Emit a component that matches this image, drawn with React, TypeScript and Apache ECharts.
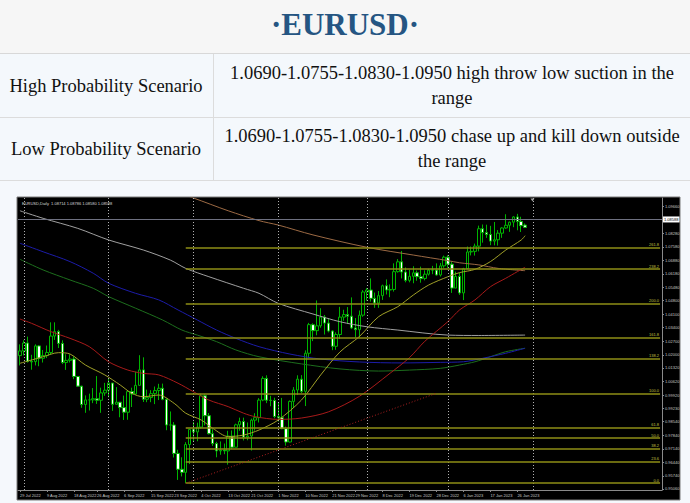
import React, { useEffect, useRef } from 'react';
import * as echarts from 'echarts';

// ---- table text ----
const TITLE = '·EURUSD·';
const ROW_LABELS = ['High Probability Scenario', 'Low Probability Scenario'];
const ROW_TEXT = [
  ['1.0690-1.0755-1.0830-1.0950 high throw low suction in the', 'range'],
  ['1.0690-1.0755-1.0830-1.0950 chase up and kill down outside', 'the range'],
];
const CHART_HEADER = 'EURUSD,Daily  1.08714 1.08786 1.08580 1.08588';

// ---- daily bars (weekdays) ----
const DATES = [
  '29 Jul 2022',
  '1 Aug 2022', '2 Aug 2022', '3 Aug 2022', '4 Aug 2022', '5 Aug 2022',
  '8 Aug 2022', '9 Aug 2022', '10 Aug 2022', '11 Aug 2022', '12 Aug 2022',
  '15 Aug 2022', '16 Aug 2022', '17 Aug 2022', '18 Aug 2022', '19 Aug 2022',
  '22 Aug 2022', '23 Aug 2022', '24 Aug 2022', '25 Aug 2022', '26 Aug 2022',
  '29 Aug 2022', '30 Aug 2022', '31 Aug 2022', '1 Sep 2022', '2 Sep 2022',
  '5 Sep 2022', '6 Sep 2022', '7 Sep 2022', '8 Sep 2022', '9 Sep 2022',
  '12 Sep 2022', '13 Sep 2022', '14 Sep 2022', '15 Sep 2022', '16 Sep 2022',
  '19 Sep 2022', '20 Sep 2022', '21 Sep 2022', '22 Sep 2022', '23 Sep 2022',
  '26 Sep 2022', '27 Sep 2022', '28 Sep 2022', '29 Sep 2022', '30 Sep 2022',
  '3 Oct 2022', '4 Oct 2022', '5 Oct 2022', '6 Oct 2022', '7 Oct 2022',
  '10 Oct 2022', '11 Oct 2022', '12 Oct 2022', '13 Oct 2022', '14 Oct 2022',
  '17 Oct 2022', '18 Oct 2022', '19 Oct 2022', '20 Oct 2022', '21 Oct 2022',
  '24 Oct 2022', '25 Oct 2022', '26 Oct 2022', '27 Oct 2022', '28 Oct 2022',
  '31 Oct 2022', '1 Nov 2022', '2 Nov 2022', '3 Nov 2022', '4 Nov 2022',
  '7 Nov 2022', '8 Nov 2022', '9 Nov 2022', '10 Nov 2022', '11 Nov 2022',
  '14 Nov 2022', '15 Nov 2022', '16 Nov 2022', '17 Nov 2022', '18 Nov 2022',
  '21 Nov 2022', '22 Nov 2022', '23 Nov 2022', '24 Nov 2022', '25 Nov 2022',
  '28 Nov 2022', '29 Nov 2022', '30 Nov 2022', '1 Dec 2022', '2 Dec 2022',
  '5 Dec 2022', '6 Dec 2022', '7 Dec 2022', '8 Dec 2022', '9 Dec 2022',
  '12 Dec 2022', '13 Dec 2022', '14 Dec 2022', '15 Dec 2022', '16 Dec 2022',
  '19 Dec 2022', '20 Dec 2022', '21 Dec 2022', '22 Dec 2022', '23 Dec 2022',
  '26 Dec 2022', '27 Dec 2022', '28 Dec 2022', '29 Dec 2022', '30 Dec 2022',
  '2 Jan 2023', '3 Jan 2023', '4 Jan 2023', '5 Jan 2023', '6 Jan 2023',
  '9 Jan 2023', '10 Jan 2023', '11 Jan 2023', '12 Jan 2023', '13 Jan 2023',
  '16 Jan 2023', '17 Jan 2023', '18 Jan 2023', '19 Jan 2023', '20 Jan 2023',
  '23 Jan 2023', '24 Jan 2023', '25 Jan 2023', '26 Jan 2023', '27 Jan 2023',
  '30 Jan 2023',
];

const OPEN = [
  1.0196, 1.0220, 1.0261, 1.0165, 1.0165, 1.0246, 1.0182, 1.0196, 1.0212, 1.0297,
  1.0320, 1.0259, 1.0160, 1.0171, 1.0178, 1.0088, 1.0038, 0.9943, 0.9967, 0.9967,
  0.9973, 0.9965, 1.0003, 1.0017, 1.0054, 0.9944, 0.9955, 0.9927, 0.9903, 1.0010,
  0.9997, 1.0042, 1.0122, 0.9970, 0.9979, 0.9999, 1.0015, 1.0027, 0.9970, 0.9837,
  0.9837, 0.9690, 0.9608, 0.9592, 0.9736, 0.9814, 0.9801, 0.9826, 0.9988, 0.9885,
  0.9792, 0.9741, 0.9703, 0.9707, 0.9703, 0.9780, 0.9722, 0.9838, 0.9855, 0.9774,
  0.9780, 0.9862, 0.9875, 0.9966, 1.0078, 0.9965, 0.9964, 0.9881, 0.9875, 0.9818,
  0.9749, 0.9959, 1.0018, 1.0074, 1.0011, 1.0208, 1.0356, 1.0325, 1.0350, 1.0395,
  1.0364, 1.0323, 1.0244, 1.0305, 1.0395, 1.0408, 1.0400, 1.0339, 1.0330, 1.0405,
  1.0525, 1.0535, 1.0492, 1.0468, 1.0506, 1.0557, 1.0535, 1.0538, 1.0630, 1.0681,
  1.0628, 1.0585, 1.0606, 1.0624, 1.0604, 1.0595, 1.0617, 1.0638, 1.0638, 1.0613,
  1.0660, 1.0705, 1.0669, 1.0545, 1.0605, 1.0520, 1.0645, 1.0732, 1.0735, 1.0762,
  1.0852, 1.0832, 1.0822, 1.0788, 1.0795, 1.0829, 1.0856, 1.0870, 1.0886, 1.0913,
  1.0890, 1.0871,
];
const CLOSE = [
  1.0220, 1.0261, 1.0165, 1.0163, 1.0246, 1.0182, 1.0196, 1.0212, 1.0297, 1.0320,
  1.0259, 1.0160, 1.0171, 1.0178, 1.0088, 1.0038, 0.9943, 0.9967, 0.9967, 0.9973,
  0.9965, 1.0003, 1.0017, 1.0054, 0.9944, 0.9955, 0.9927, 0.9903, 1.0010, 0.9997,
  1.0042, 1.0122, 0.9970, 0.9979, 0.9999, 1.0015, 1.0027, 0.9970, 0.9837, 0.9837,
  0.9690, 0.9608, 0.9592, 0.9736, 0.9814, 0.9801, 0.9826, 0.9988, 0.9885, 0.9792,
  0.9741, 0.9703, 0.9707, 0.9703, 0.9780, 0.9722, 0.9838, 0.9855, 0.9774, 0.9780,
  0.9862, 0.9875, 0.9966, 1.0078, 0.9965, 0.9964, 0.9881, 0.9875, 0.9818, 0.9749,
  0.9959, 1.0018, 1.0074, 1.0011, 1.0208, 1.0356, 1.0325, 1.0350, 1.0395, 1.0364,
  1.0323, 1.0244, 1.0305, 1.0395, 1.0408, 1.0400, 1.0339, 1.0330, 1.0405, 1.0525,
  1.0535, 1.0492, 1.0468, 1.0506, 1.0557, 1.0535, 1.0538, 1.0630, 1.0681, 1.0628,
  1.0585, 1.0606, 1.0624, 1.0604, 1.0595, 1.0617, 1.0638, 1.0638, 1.0613, 1.0660,
  1.0705, 1.0669, 1.0545, 1.0605, 1.0520, 1.0645, 1.0732, 1.0735, 1.0762, 1.0852,
  1.0832, 1.0822, 1.0788, 1.0795, 1.0829, 1.0856, 1.0870, 1.0886, 1.0913, 1.0890,
  1.0868, 1.0859,
];
const LOW = [
  1.0145, 1.0197, 1.0160, 1.0123, 1.0145, 1.0141, 1.0160, 1.0183, 1.0200, 1.0277,
  1.0235, 1.0152, 1.0122, 1.0160, 1.0074, 1.0034, 0.9926, 0.9900, 0.9912, 0.9950,
  0.9946, 0.9900, 0.9988, 0.9980, 0.9910, 0.9943, 0.9877, 0.9863, 0.9864, 0.9930,
  0.9996, 1.0040, 0.9956, 0.9955, 0.9955, 0.9945, 0.9966, 0.9965, 0.9810, 0.9808,
  0.9669, 0.9553, 0.9571, 0.9536, 0.9635, 0.9749, 0.9753, 0.9819, 0.9835, 0.9788,
  0.9729, 0.9670, 0.9683, 0.9686, 0.9632, 0.9712, 0.9722, 0.9807, 0.9757, 0.9758,
  0.9705, 0.9808, 0.9850, 0.9960, 0.9950, 0.9934, 0.9872, 0.9855, 0.9815, 0.9730,
  0.9747, 0.9925, 0.9992, 1.0002, 0.9935, 1.0182, 1.0271, 1.0301, 1.0340, 1.0305,
  1.0316, 1.0224, 1.0226, 1.0282, 1.0376, 1.0360, 1.0333, 1.0290, 1.0290, 1.0397,
  1.0480, 1.0475, 1.0443, 1.0443, 1.0484, 1.0512, 1.0498, 1.0527, 1.0625, 1.0595,
  1.0575, 1.0575, 1.0570, 1.0583, 1.0573, 1.0585, 1.0610, 1.0617, 1.0609, 1.0605,
  1.0650, 1.0650, 1.0520, 1.0545, 1.0510, 1.0483, 1.0645, 1.0714, 1.0713, 1.0735,
  1.0780, 1.0805, 1.0767, 1.0766, 1.0765, 1.0805, 1.0852, 1.0836, 1.0860, 1.0844,
  1.0835, 1.0858,
];
const HIGH = [
  1.0254, 1.0275, 1.0294, 1.0200, 1.0254, 1.0250, 1.0225, 1.0248, 1.0368, 1.0368,
  1.0329, 1.0275, 1.0203, 1.0202, 1.0192, 1.0090, 1.0040, 0.9990, 0.9999, 1.0028,
  1.0090, 1.0030, 1.0055, 1.0080, 1.0054, 1.0033, 0.9955, 0.9989, 1.0012, 1.0030,
  1.0113, 1.0198, 1.0187, 1.0020, 1.0017, 1.0036, 1.0050, 1.0051, 0.9975, 0.9907,
  0.9852, 0.9709, 0.9670, 0.9748, 0.9816, 0.9853, 0.9849, 0.9999, 0.9996, 0.9899,
  0.9815, 0.9750, 0.9752, 0.9741, 0.9807, 0.9809, 0.9844, 0.9875, 0.9875, 0.9850,
  0.9870, 0.9898, 0.9976, 1.0089, 1.0094, 0.9988, 0.9978, 0.9956, 0.9977, 0.9829,
  0.9964, 1.0033, 1.0094, 1.0095, 1.0223, 1.0365, 1.0363, 1.0481, 1.0441, 1.0406,
  1.0390, 1.0327, 1.0316, 1.0448, 1.0433, 1.0447, 1.0497, 1.0390, 1.0429, 1.0535,
  1.0545, 1.0595, 1.0522, 1.0530, 1.0563, 1.0590, 1.0564, 1.0673, 1.0695, 1.0737,
  1.0652, 1.0639, 1.0658, 1.0636, 1.0656, 1.0637, 1.0645, 1.0660, 1.0673, 1.0675,
  1.0713, 1.0715, 1.0683, 1.0630, 1.0625, 1.0650, 1.0760, 1.0760, 1.0775, 1.0868,
  1.0874, 1.0873, 1.0867, 1.0887, 1.0845, 1.0860, 1.0927, 1.0889, 1.0917, 1.0929,
  1.0914, 1.0879,
];

// ---- moving averages: [bar index, price] ----
const MA_YELLOW = [
  [0, 1.0156], [6, 1.0190], [10, 1.0211], [13, 1.0204], [17, 1.0147], [22, 1.0096],
  [26, 1.0044], [29, 1.0001], [32, 0.9983], [36, 0.9992], [40, 0.9949], [43, 0.9898],
  [47, 0.9863], [50, 0.9820], [54, 0.9777], [58, 0.9785], [62, 0.9811], [67, 0.9863],
  [73, 0.9966], [78, 1.0096], [83, 1.0215], [88, 1.0294], [93, 1.0397], [98, 1.0449],
  [102, 1.0509], [106, 1.0561], [111, 1.0604], [114, 1.0625], [118, 1.0642],
  [122, 1.0682], [126, 1.0742], [130, 1.0794], [131, 1.0816],
];
const MA_RED = [
  [0, 1.0385], [3, 1.0363], [8, 1.0320], [13, 1.0285], [18, 1.0242], [23, 1.0164],
  [28, 1.0121], [32, 1.0104], [36, 1.0096], [41, 1.0053], [45, 1.0009], [49, 0.9966],
  [54, 0.9932], [58, 0.9898], [61, 0.9880], [67, 0.9866], [73, 0.9873], [80, 0.9905],
  [88, 0.9985], [96, 1.0105], [101, 1.0185], [105, 1.0270], [111, 1.0372],
  [114, 1.0432], [118, 1.0484], [122, 1.0552], [126, 1.0596], [131, 1.0653],
];
const MA_BLUE = [
  [0, 1.0777], [6, 1.0733], [13, 1.0682], [19, 1.0622], [23, 1.0570], [30, 1.0518],
  [36, 1.0484], [41, 1.0432], [46, 1.0380], [51, 1.0328], [56, 1.0285], [62, 1.0242],
  [70, 1.0204], [78, 1.0178], [88, 1.0163], [99, 1.0158], [109, 1.0161], [115, 1.0164],
  [120, 1.0182], [126, 1.0208], [131, 1.0234],
];
const MA_GREEN = [
  [0, 1.0694], [6, 1.0639], [13, 1.0587], [19, 1.0544], [23, 1.0501], [30, 1.0441],
  [37, 1.0380], [42, 1.0328], [46, 1.0302], [51, 1.0268], [56, 1.0225], [62, 1.0190],
  [73, 1.0153], [83, 1.0127], [93, 1.0116], [101, 1.0121], [109, 1.0130], [114, 1.0147],
  [118, 1.0164], [122, 1.0190], [126, 1.0216], [131, 1.0234],
];
const MA_GRAY = [
  [0, 1.0945], [6, 1.0906], [15, 1.0854], [23, 1.0794], [32, 1.0742], [39, 1.0690],
  [43, 1.0647], [49, 1.0604], [58, 1.0544], [62, 1.0518], [67, 1.0466], [76, 1.0411],
  [83, 1.0371], [90, 1.0345], [98, 1.0328], [111, 1.0302], [119, 1.0300], [131, 1.0302],
];
const MA_BROWN = [
  [40, 1.1044], [45, 1.1011], [54, 1.0945], [62, 1.0894], [67, 1.0871], [76, 1.0820],
  [90, 1.0756], [102, 1.0716], [111, 1.0687], [114, 1.0676], [119, 1.0665],
  [124, 1.0647], [131, 1.0635],
];

// ---- Fibonacci object ----
const FIB_FROM = { idx: 43, price: 0.9536 };
const FIB_TO = { idx: 108, price: 1.0001 };
const FIB_LEVELS = [0, 23.6, 38.2, 50, 61.8, 100, 138.2, 161.8, 200, 238.2, 261.8];

// ---- axis ----
const TICK_DATES = [
  '29 Jul 2022', '9 Aug 2022', '18 Aug 2022', '26 Aug 2022', '6 Sep 2022', '15 Sep 2022',
  '23 Sep 2022', '4 Oct 2022', '13 Oct 2022', '21 Oct 2022', '1 Nov 2022', '10 Nov 2022',
  '21 Nov 2022', '29 Nov 2022', '8 Dec 2022', '19 Dec 2022', '28 Dec 2022', '6 Jan 2023',
  '17 Jan 2023', '26 Jan 2023',
];
const PRICE_TICKS = [
  0.9506, 0.9574, 0.9644, 0.9714, 0.9784, 0.9854, 0.9923, 0.9992, 1.0062, 1.0132,
  1.0200, 1.0270, 1.0340, 1.0410, 1.0480, 1.0548, 1.0618, 1.0688, 1.0758, 1.0828,
  1.0896, 1.0966,
];
const BID = 1.08588;
const GRID_BARS = [1, 23, 45, 67, 90, 111, 133];
const EMPTY_SLOTS = 35;
const Y_MIN = 0.95008;
const Y_MAX = 1.1011;

export default function App() {
  const ref = useRef<HTMLDivElement>(null);
  useEffect(() => {
    const chart = echarts.init(ref.current!, null, { renderer: 'svg', width: 690, height: 503 });
    const cats = DATES.concat(Array(EMPTY_SLOTS).fill(''));
    const lastCat = cats.length - 1;
    const candles = DATES.map((_, i) => [OPEN[i], CLOSE[i], LOW[i], HIGH[i]]);
    const showTick = (i: number, v: string) => TICK_DATES.indexOf(v) >= 0;
    const small = { fontSize: 4, fontFamily: 'Liberation Sans', color: '#c8c8c8' };

    const fibLines = FIB_LEVELS.map((lv) => {
      const p = FIB_FROM.price + (FIB_TO.price - FIB_FROM.price) * lv / 100;
      return [
        {
          coord: [FIB_FROM.idx, p],
          lineStyle: { color: '#8e8e16', width: 1.6, type: 'solid' },
          label: {
            show: true, position: 'insideEndTop', distance: 1,
            formatter: lv.toFixed(1), color: '#c0c040', fontSize: 4,
            fontFamily: 'Liberation Sans',
          },
        },
        { coord: [lastCat, p] },
      ];
    });

    const vLines = GRID_BARS.map((b) => ({
      xAxis: b,
      lineStyle: { color: '#b0b0b0', width: 1, type: [1, 2] },
      label: { show: false },
    }));

    const maSeries = (data: number[][], color: string) => ({
      type: 'line', data, smooth: 0.3, showSymbol: false, symbol: 'none',
      lineStyle: { color, width: 1 }, silent: true, z: 3,
    });

    const tx = (text: string, x: number, y: number, extra: any = {}) => ({
      type: 'text', x, y, z: 10, silent: true,
      style: {
        text, fill: '#111111', fontSize: 18.5, fontFamily: 'Liberation Serif', fontWeight: 'normal',
        textAlign: 'center', textVerticalAlign: 'middle', align: 'center', verticalAlign: 'middle',
        ...extra,
      },
    });

    const rowY = [[85.5, 73, 98], [148.5, 136, 161]];
    const graphics: any[] = [
      { type: 'rect', z: -1, silent: true, shape: { x: 0, y: 0, width: 690, height: 53 }, style: { fill: '#f6f6f6' } },
      { type: 'rect', z: -1, silent: true, shape: { x: 0, y: 54, width: 690, height: 126 }, style: { fill: '#f4f8fc' } },
      { type: 'line', z: 1, silent: true, shape: { x1: 0, y1: 53.5, x2: 690, y2: 53.5 }, style: { stroke: '#d8d8d8', lineWidth: 1 } },
      { type: 'line', z: 1, silent: true, shape: { x1: 0, y1: 117.5, x2: 690, y2: 117.5 }, style: { stroke: '#dcdcdc', lineWidth: 1 } },
      { type: 'line', z: 1, silent: true, shape: { x1: 0, y1: 180.5, x2: 690, y2: 180.5 }, style: { stroke: '#dcdcdc', lineWidth: 1 } },
      { type: 'line', z: 1, silent: true, shape: { x1: 213.5, y1: 54, x2: 213.5, y2: 180 }, style: { stroke: '#dcdcdc', lineWidth: 1 } },
      { type: 'rect', z: -1, silent: true, shape: { x: 17, y: 197, width: 663, height: 303 }, style: { fill: '#000000', stroke: '#7a7a7a', lineWidth: 1 } },
      tx(TITLE, 345, 24, { fontSize: 31, fontWeight: 'bold', fill: '#255582' }),
      {
        type: 'text', x: 22, y: 203, z: 10, silent: true,
        style: { text: CHART_HEADER, fill: '#d8d8d8', fontSize: 4, fontFamily: 'Liberation Sans', textVerticalAlign: 'middle', verticalAlign: 'middle' },
      },
      { type: 'polygon', z: 10, silent: true, shape: { points: [[530.5, 198.5], [534.5, 198.5], [532.5, 201.5]] }, style: { fill: '#a0a0a0' } },
    ];
    ROW_LABELS.forEach((lab, r) => {
      graphics.push(tx(lab, 106, rowY[r][0]));
      graphics.push(tx(ROW_TEXT[r][0], 452, rowY[r][1]));
      graphics.push(tx(ROW_TEXT[r][1], 452, rowY[r][2]));
    });

    const option: any = {
      animation: false,
      backgroundColor: '#f5f8fc',
      graphic: graphics,
      grid: { left: 18, top: 198, width: 644, height: 292, containLabel: false },
      xAxis: {
        type: 'category', data: cats, boundaryGap: true,
        axisLine: { show: true, lineStyle: { color: '#8a8a8a', width: 1 } },
        axisTick: { show: true, alignWithLabel: true, interval: showTick, length: 2, lineStyle: { color: '#8a8a8a' } },
        axisLabel: { ...small, interval: showTick, align: 'left', margin: 3, hideOverlap: false },
        splitLine: { show: false },
      },
      yAxis: {
        type: 'value', position: 'right', min: Y_MIN, max: Y_MAX, scale: true,
        axisLine: { show: true, lineStyle: { color: '#8a8a8a', width: 1 } },
        axisTick: { show: true, customValues: PRICE_TICKS, length: 2, lineStyle: { color: '#8a8a8a' } },
        axisLabel: { ...small, customValues: PRICE_TICKS, margin: 3, formatter: (v: number) => v.toFixed(5), hideOverlap: false },
        splitLine: { show: false },
      },
      series: [
        {
          type: 'candlestick', data: candles, barWidth: 3, z: 2,
          itemStyle: { color: '#000000', color0: '#ffffff', borderColor: '#00b400', borderColor0: '#00b400', borderWidth: 1 },
          markLine: {
            silent: true, symbol: ['none', 'none'], animation: false,
            data: [
              ...vLines,
              ...fibLines,
              [
                { coord: [FIB_FROM.idx, FIB_FROM.price], lineStyle: { color: '#b02020', width: 1, type: [1, 2] }, label: { show: false } },
                { coord: [FIB_TO.idx, FIB_TO.price] },
              ],
              {
                yAxis: BID,
                lineStyle: { color: '#6e7080', width: 1, type: 'solid' },
                label: {
                  show: true, position: 'end', distance: 1, formatter: BID.toFixed(5),
                  backgroundColor: '#ffffff', color: '#000000', fontSize: 4, padding: [1, 1],
                  fontFamily: 'Liberation Sans',
                },
              },
            ],
          },
        },
        maSeries(MA_BROWN, '#9c6a44'),
        maSeries(MA_GRAY, '#a0a0a0'),
        maSeries(MA_GREEN, '#1d6e1d'),
        maSeries(MA_BLUE, '#1c1ca8'),
        maSeries(MA_RED, '#a81a1a'),
        maSeries(MA_YELLOW, '#a0a028'),
      ],
    };
    chart.setOption(option);
    return () => chart.dispose();
  }, []);
  return <div ref={ref} style={{ position: 'fixed', left: 0, top: 0, width: 690, height: 503 }} />;
}
